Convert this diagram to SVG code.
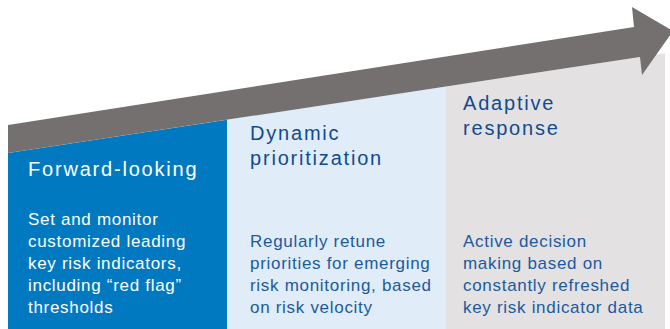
<svg xmlns="http://www.w3.org/2000/svg" width="670" height="329" viewBox="0 0 670 329">
  <style>
    .title { font-family: "Liberation Sans", Arial, sans-serif; font-size: 20px; letter-spacing: 1.8px; }
    .body { font-family: "Liberation Sans", Arial, sans-serif; font-size: 17px; letter-spacing: 0.7px; }
    .light { fill: #ffffff; }
    .dark { fill: #114b8f; }
    .darkbody { fill: #1d5a9c; }
  </style>
  <rect width="670" height="329" fill="#ffffff"/>
  <g id="panel-forward">
    <polygon points="8,153 227,119.7 227,329 8,329" fill="#0079c1"/>
    <text class="title light" x="28" y="176">Forward-looking</text>
    <text class="body light" x="28" y="225">Set and monitor</text>
    <text class="body light" x="28" y="247">customized leading</text>
    <text class="body light" x="28" y="269">key risk indicators,</text>
    <text class="body light" x="28" y="291">including “red flag”</text>
    <text class="body light" x="28" y="313">thresholds</text>
  </g>
  <g id="panel-dynamic">
    <polygon points="227,119.7 446,86.5 446,329 227,329" fill="#e0ecf8"/>
    <text class="title dark" x="250" y="140">Dynamic</text>
    <text class="title dark" x="250" y="165">prioritization</text>
    <text class="body darkbody" x="250" y="247">Regularly retune</text>
    <text class="body darkbody" x="250" y="269">priorities for emerging</text>
    <text class="body darkbody" x="250" y="291">risk monitoring, based</text>
    <text class="body darkbody" x="250" y="313">on risk velocity</text>
  </g>
  <g id="panel-adaptive">
    <polygon points="446,86.5 665,53.2 665,329 446,329" fill="#e3e1e2"/>
    <text class="title dark" x="463" y="110">Adaptive</text>
    <text class="title dark" x="463" y="135">response</text>
    <text class="body darkbody" x="463" y="247">Active decision</text>
    <text class="body darkbody" x="463" y="269">making based on</text>
    <text class="body darkbody" x="463" y="291">constantly refreshed</text>
    <text class="body darkbody" x="463" y="313">key risk indicator data</text>
  </g>
  <g id="connectors">
    <polygon id="progress-arrow" points="8,125 634,27 632,7 673,31 642,75 640,57 8,153" fill="#747070"/>
  </g>
</svg>
